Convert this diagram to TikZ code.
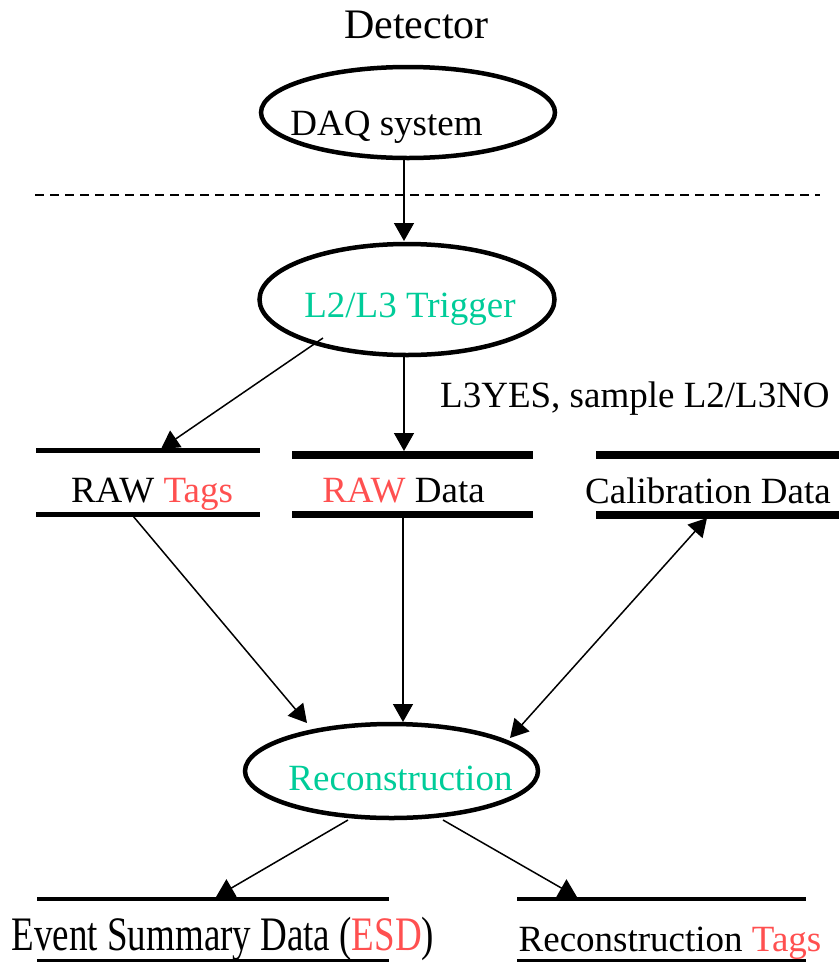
\documentclass[tikz,border=0pt]{standalone}
\usepackage{fontspec}
\setmainfont{Liberation Serif}
\usetikzlibrary{arrows.meta,shapes.geometric}
\definecolor{tgreen}{RGB}{0,204,153}
\definecolor{tred}{RGB}{255,80,80}
\tikzset{
  ell/.style={draw, ellipse, line width=4.5pt, inner sep=0pt, minimum width=#1},
  lbl/.style={anchor=base, inner sep=0pt, font=\fontsize{37}{44}\selectfont},
  conn/.style={line width=1.5pt, -{Triangle[length=18pt,width=20pt]}},
  dconn/.style={line width=1.5pt, {Triangle[length=18pt,width=20pt]}-{Triangle[length=18pt,width=20pt]}},
  thinbar/.style={line width=4.3pt},
  thickbar/.style={line width=7.8pt},
  hairbar/.style={line width=2.2pt},
}
\begin{document}
\begin{tikzpicture}[x=1pt,y=-1pt]
\useasboundingbox (0,0) rectangle (839,962);
% title
\node[lbl, font=\fontsize{42}{50}\selectfont] (det) at (416.5,38) {Detector};
% ellipses
\node[ell, minimum width=294pt, minimum height=91pt] (daq) at (408,112.5) {};
\node[lbl] (daqt) at (386.5,135) {DAQ system};
\node[ell, minimum width=295pt, minimum height=111pt] (l2) at (407,299.5) {};
\node[lbl, text=tgreen] (l2t) at (410,317) {L2/L3 Trigger};
\node[ell, minimum width=293pt, minimum height=94pt] (reco) at (391.5,771) {};
\node[lbl, text=tgreen] (recot) at (400.5,790) {Reconstruction};
% dashed separator
\coordinate (dl) at (35,195);
\coordinate (dr) at (820,195);
\draw[line width=1.3pt, dash pattern=on 9pt off 6pt] (dl) -- (dr);
% data stores: bars
\coordinate (rtTL) at (36,450.5);  \coordinate (rtTR) at (260,450.5);
\coordinate (rtBL) at (36,514.5);  \coordinate (rtBR) at (260,514.5);
\draw[thinbar] (rtTL) -- (rtTR); \draw[thinbar] (rtBL) -- (rtBR);
\coordinate (rdTL) at (292,455);  \coordinate (rdTR) at (533,455);
\coordinate (rdBL) at (292,514.5);  \coordinate (rdBR) at (533,514.5);
\draw[thickbar] (rdTL) -- (rdTR); \draw[thickbar] (rdBL) -- (rdBR);
\coordinate (cdTL) at (596,455);  \coordinate (cdTR) at (839,455);
\coordinate (cdBL) at (596,515);  \coordinate (cdBR) at (839,515);
\draw[thickbar] (cdTL) -- (cdTR); \draw[thickbar] (cdBL) -- (cdBR);
\coordinate (esTL) at (37,899);  \coordinate (esTR) at (389,899);
\coordinate (esBL) at (37,960.5);  \coordinate (esBR) at (389,960.5);
\draw[thinbar] (esTL) -- (esTR); \draw[hairbar] (esBL) -- (esBR);
\coordinate (tgTL) at (517,899);  \coordinate (tgTR) at (806,899);
\coordinate (tgBL) at (517,960.5);  \coordinate (tgBR) at (806,960.5);
\draw[thinbar] (tgTL) -- (tgTR); \draw[hairbar] (tgBL) -- (tgBR);
% store labels
\node[lbl] (rawtags) at (152,502) {RAW \textcolor{tred}{Tags}};
\node[lbl] (rawdata) at (403.5,502) {\textcolor{tred}{RAW} Data};
\node[lbl] (calib) at (708,503) {Calibration Data};
\node[lbl] (esd) at (223,950) {\scalebox{1}[1.3]{Event Summary Data (\textcolor{tred}{ESD})}};
\node[lbl] (rtags) at (670,951) {Reconstruction \textcolor{tred}{Tags}};
\node[lbl, anchor=base west] (yes) at (440,407) {L3YES, sample L2/L3NO};
% connector end points
\coordinate (daqS) at (404,160);
\coordinate (l2N) at (404,241);
\coordinate (l2SW) at (323,338);
\coordinate (rtIn) at (161,449);
\coordinate (l2S) at (404,357);
\coordinate (rdIn) at (404,451);
\coordinate (rtOut) at (133,516);
\coordinate (recoNW) at (307,723);
\coordinate (rdOut) at (403,518);
\coordinate (recoN) at (403,722);
\coordinate (cdOut) at (707,518);
\coordinate (recoNE) at (510,738);
\coordinate (recoSW) at (348,820);
\coordinate (esIn) at (216,897);
\coordinate (recoSE) at (443,820);
\coordinate (tgIn) at (577,897);
% connectors
\draw[conn] (daqS) -- (l2N);
\draw[conn] (l2SW) -- (rtIn);
\draw[conn] (l2S) -- (rdIn);
\draw[conn] (rtOut) -- (recoNW);
\draw[conn] (rdOut) -- (recoN);
\draw[dconn] (cdOut) -- (recoNE);
\draw[conn] (recoSW) -- (esIn);
\draw[conn] (recoSE) -- (tgIn);
\end{tikzpicture}
\end{document}
